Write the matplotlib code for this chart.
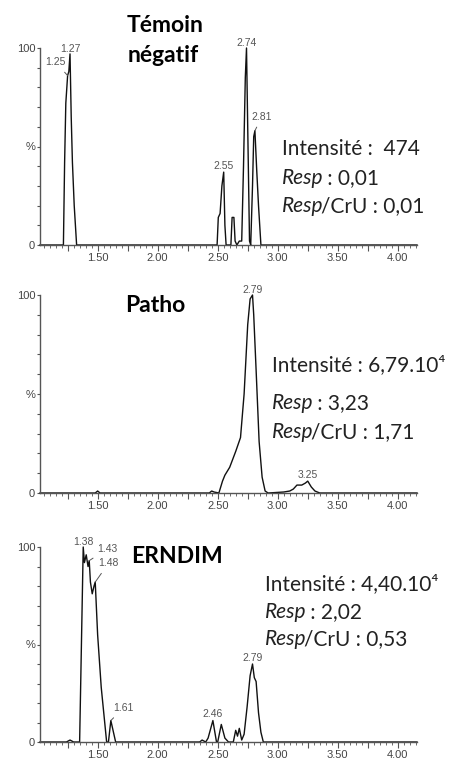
import matplotlib
matplotlib.use("Agg")
import matplotlib.pyplot as plt
from matplotlib.ticker import MultipleLocator, FuncFormatter

plt.rcParams['font.family'] = ['Lato', 'DejaVu Sans']

# chromatogram traces: retention time (min) and relative intensity (%)
temoin_t = [1.02, 1.215, 1.225, 1.235, 1.25, 1.26, 1.27, 1.28, 1.29, 1.305, 1.325,
            2.495, 2.505, 2.52, 2.535, 2.55, 2.56, 2.57, 2.61, 2.62, 2.635, 2.645, 2.66,
            2.68, 2.70, 2.715, 2.73, 2.74, 2.75, 2.765, 2.775, 2.79, 2.80, 2.81, 2.825,
            2.84, 2.86, 4.16]
temoin_y = [0, 0, 42, 72, 86, 88, 97, 65, 42, 20, 0,
            0, 14, 16, 30, 37, 10, 0, 0, 14, 14, 2, 0,
            2, 2, 40, 85, 100, 60, 2, 0, 30, 55, 58, 38,
            20, 0, 0]

patho_t = [1.02, 1.48, 1.50, 1.52, 2.43, 2.45, 2.47, 2.51, 2.54, 2.56, 2.60, 2.65,
           2.69, 2.72, 2.75, 2.77, 2.79, 2.80, 2.82, 2.845, 2.87, 2.895, 2.92,
           3.05, 3.10, 3.13, 3.16, 3.20, 3.23, 3.25, 3.28, 3.31, 3.35, 4.16]
patho_y = [0, 0, 1, 0, 0, 1, 0.5, 0, 6, 9, 13, 21,
           28, 50, 85, 98, 100, 90, 62, 26, 8, 1, 0,
           0.5, 1, 2, 4, 4, 5, 6, 3, 1, 0, 0]

erndim_t = [1.02, 1.24, 1.27, 1.30, 1.35, 1.365, 1.38, 1.39, 1.405, 1.42, 1.43, 1.44,
            1.455, 1.47, 1.48, 1.50, 1.53, 1.575, 1.59, 1.61, 1.65,
            2.35, 2.37, 2.40, 2.42, 2.46, 2.49, 2.50, 2.53, 2.56, 2.59, 2.63, 2.65,
            2.665, 2.68, 2.70, 2.72, 2.745, 2.77, 2.79, 2.805, 2.82, 2.84, 2.86, 2.88,
            4.16]
erndim_y = [0, 0, 1, 0, 0, 50, 100, 92, 96, 90, 93, 82,
            76, 80, 82, 55, 28, 0, 0, 11, 0,
            0, 1, 0, 2, 11, 0, 0, 9, 2, 0, 0, 6,
            3, 7, 1, 4, 18, 34, 40, 33, 31, 15, 5, 0,
            0]

# peak labels: (time, height, text)
temoin_peaks = [(1.27, 97, "1.27"), (1.25, 86, "1.25"), (2.55, 37, "2.55"),
                (2.74, 100, "2.74"), (2.81, 58, "2.81")]
patho_peaks = [(2.79, 100, "2.79"), (3.25, 6, "3.25")]
erndim_peaks = [(1.38, 100, "1.38"), (1.43, 93, "1.43"), (1.48, 82, "1.48"),
                (1.61, 11, "1.61"), (2.46, 11, "2.46"), (2.79, 40, "2.79")]

titles = [["Témoin", "négatif"], ["Patho"], ["ERNDIM"]]
intensites = ["Intensité :  474", "Intensité : 6,79.10\u2074", "Intensité : 4,40.10\u2074"]
resp = ["0,01", "3,23", "2,02"]
resp_cru = ["0,01", "1,71", "0,53"]

W, H = 456, 764
fig = plt.figure(figsize=(W / 100, H / 100), dpi=100)
TXT = "#222222"
GREY = "#555555"


def fx(px):
    return px / W


def fy(py):
    return 1 - py / H


def tick_fmt(v, pos):
    # only every 0.5 min gets a label
    if abs(v * 2 - round(v * 2)) < 1e-6:
        return "%.2f" % v
    return ""


def make_axes(top, bottom):
    ax = fig.add_axes([fx(40), fy(bottom), fx(417 - 40), (bottom - top) / H])
    ax.set_xlim(1.02, 4.16)
    ax.set_ylim(0, 100)
    for s in ["top", "right"]:
        ax.spines[s].set_visible(False)
    for s in ["left", "bottom"]:
        ax.spines[s].set_color(GREY)
        ax.spines[s].set_linewidth(1.0)
    ax.xaxis.set_major_locator(MultipleLocator(0.25))
    ax.xaxis.set_minor_locator(MultipleLocator(0.05))
    ax.xaxis.set_major_formatter(FuncFormatter(tick_fmt))
    ax.set_yticks(range(0, 101, 10))
    ax.set_yticklabels(["0", "", "", "", "", "%", "", "", "", "", "100"])
    ax.tick_params(axis="x", which="major", length=4, width=0.8, color=GREY,
                   labelsize=8, labelcolor="#444444", pad=2)
    ax.tick_params(axis="x", which="minor", length=2, width=0.6, color=GREY)
    ax.tick_params(axis="y", length=2.5, width=0.8, color=GREY,
                   labelsize=8, labelcolor="#444444", pad=1)
    for lab in ax.get_xticklabels() + ax.get_yticklabels():
        lab.set_family("Liberation Sans")
    return ax


def label_peaks(ax, peaks, offsets):
    for (t, h, txt), (dx, dy, lead) in zip(peaks, offsets):
        kw = {}
        va = "bottom"
        if lead:
            va = "center"
            kw["arrowprops"] = dict(arrowstyle="-", color=GREY, lw=0.7,
                                    shrinkA=2, shrinkB=0)
        ax.annotate(txt, xy=(t, h), xytext=(dx, dy), textcoords="offset points",
                    ha="center", va=va, fontsize=7.5, color=GREY,
                    family="Liberation Sans", annotation_clip=False, **kw)


def info_block(x, baselines, i):
    fs = 15
    fig.text(fx(x), fy(baselines[0]), intensites[i], fontsize=fs, color=TXT,
             va="baseline", ha="left")
    r = fig.text(fx(x), fy(baselines[1]), "Resp", fontsize=fs, style="italic",
                 color=TXT, va="baseline", ha="left")
    plt.annotate(" : " + resp[i], xy=(1, 0), xycoords=r, xytext=(-1, 0),
                 textcoords="offset points", va="bottom", ha="left",
                 fontsize=fs, color=TXT)
    r2 = fig.text(fx(x), fy(baselines[2]), "Resp", fontsize=fs, style="italic",
                  color=TXT, va="baseline", ha="left")
    plt.annotate("/CrU : " + resp_cru[i], xy=(1, 0), xycoords=r2, xytext=(-2, 0),
                 textcoords="offset points", va="bottom", ha="left",
                 fontsize=fs, color=TXT)


# panel 1
ax1 = make_axes(48, 245)
ax1.plot(temoin_t, temoin_y, color="#111111", lw=1.0, clip_on=False)
label_peaks(ax1, temoin_peaks, [(0, 0, False), (-8.5, 9.5, True), (0, 1, False),
                                (0, 0, False), (5, 10, True)])

# panel 2
ax2 = make_axes(295, 493)
ax2.plot(patho_t, patho_y, color="#111111", lw=1.0, clip_on=False)
label_peaks(ax2, patho_peaks, [(0, 0, False), (0, 1, False)])

# panel 3
ax3 = make_axes(547, 742)
ax3.plot(erndim_t, erndim_y, color="#111111", lw=1.0, clip_on=False)
label_peaks(ax3, erndim_peaks, [(0, 0, False), (13, 8.5, True), (9.5, 13.5, True),
                                (9, 9, True), (0, 1, False), (0, 1, False)])

# titles
tfs = 16.5
fig.text(fx(165), fy(32), titles[0][0], fontsize=tfs, fontweight="bold", ha="center", va="baseline")
fig.text(fx(163), fy(62), titles[0][1], fontsize=tfs, fontweight="bold", ha="center", va="baseline")
fig.text(fx(155), fy(312), titles[1][0], fontsize=tfs, fontweight="bold", ha="center", va="baseline")
fig.text(fx(177), fy(563), titles[2][0], fontsize=tfs, fontweight="bold", ha="center", va="baseline")

info_block(282, [155, 184, 212], 0)
info_block(272, [371, 409, 438], 1)
info_block(265, [590, 618, 645], 2)

fig.savefig("out.png", dpi=100)
